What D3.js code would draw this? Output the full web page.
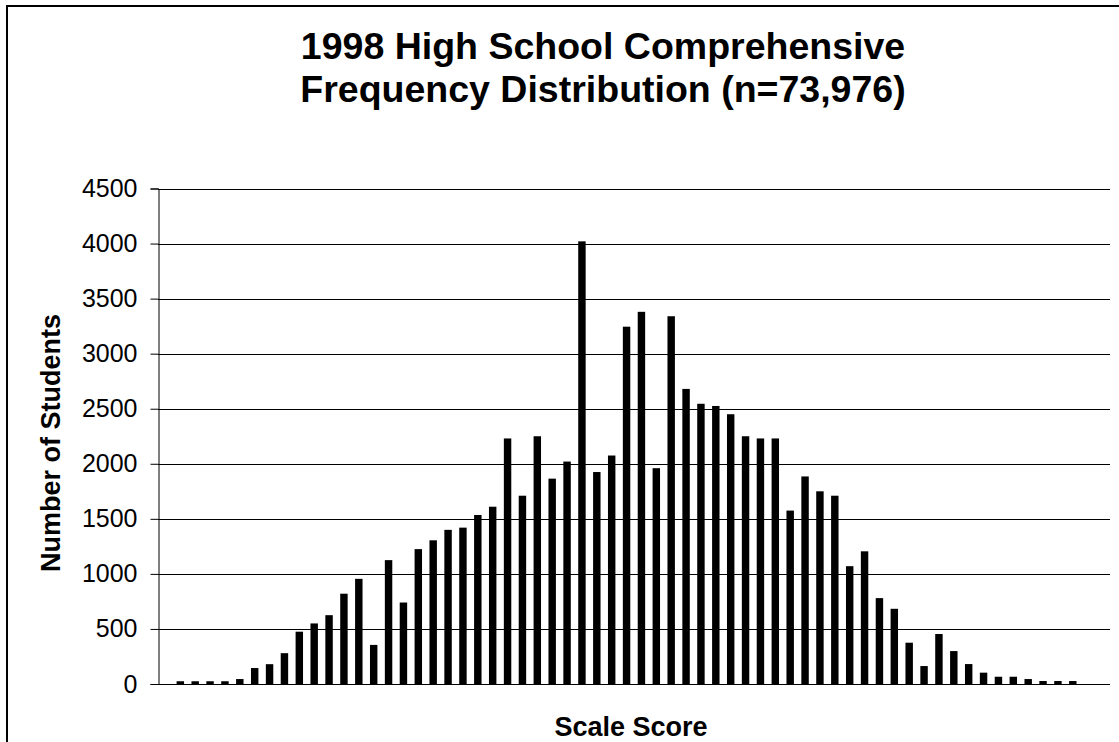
<!DOCTYPE html>
<html>
<head>
<meta charset="utf-8">
<script src="https://cdn.jsdelivr.net/npm/d3@7"></script>
<style>
    body { margin: 0; background: #fff; }
    svg text { font-family: "Liberation Sans", Arial, sans-serif; fill: #000; }
</style>
</head>
<body>
<svg id="chart" width="1119" height="742"></svg>
<script>
// Frequency per scale score (left to right)
var counts = [0, 25, 25, 25, 25, 45, 145, 180, 280, 475, 550, 625, 820, 955, 355, 1125,
    740, 1225, 1305, 1400, 1420, 1535, 1610, 2230, 1710, 2250, 1865, 2020, 4020, 1925,
    2075, 3245, 3380, 1960, 3340, 2680, 2545, 2525, 2450, 2250, 2230, 2230, 1575, 1885,
    1750, 1710, 1070, 1205, 780, 683, 375, 163, 454, 299, 181, 103, 66, 66, 45, 27, 27, 27, 0, 0];
var scores = d3.range(counts.length);
var yTicks = [0, 500, 1000, 1500, 2000, 2500, 3000, 3500, 4000, 4500];
var titleLines = ["1998 High School Comprehensive", "Frequency Distribution (n=73,976)"];

var svg = d3.select("#chart");

// chart border
svg.append("rect")
    .attr("x", 7).attr("y", 6)
    .attr("width", 1130).attr("height", 760)
    .attr("fill", "none").attr("stroke", "#000").attr("stroke-width", 2);

var margin = { top: 188.5, left: 158, right: 1110, bottom: 684 };

var x = d3.scaleBand()
    .domain(scores)
    .range([margin.left, margin.right])
    .paddingInner(0.5)
    .paddingOuter(0.25);

var y = d3.scaleLinear()
    .domain([0, 4500])
    .range([margin.bottom, margin.top]);

// gridlines
svg.append("g")
    .selectAll("line")
    .data(yTicks)
    .enter().append("line")
    .attr("x1", margin.left).attr("x2", margin.right)
    .attr("y1", function (d) { return Math.round(y(d)) + 0.5; })
    .attr("y2", function (d) { return Math.round(y(d)) + 0.5; })
    .attr("stroke", "#000").attr("stroke-width", 1);

// bars
svg.append("g")
    .selectAll("rect")
    .data(counts)
    .enter().append("rect")
    .attr("x", function (d, i) { return x(i); })
    .attr("width", x.bandwidth())
    .attr("y", function (d) { return y(d); })
    .attr("height", function (d) { return y(0) - y(d); })
    .attr("fill", "#000");

// y axis
var yAxis = svg.append("g")
    .attr("transform", "translate(" + (margin.left + 0.5) + ",0)")
    .call(d3.axisLeft(y).tickValues(yTicks).tickFormat(d3.format("d")).tickSize(8).tickPadding(13));
yAxis.select(".domain").attr("stroke", "#000");
yAxis.selectAll(".tick line").attr("stroke", "#000");
yAxis.selectAll("text")
    .attr("font-size", 25)
    .attr("font-family", "Liberation Sans, Arial, sans-serif")
    .attr("fill", "#000");

// title
svg.append("g")
    .selectAll("text")
    .data(titleLines)
    .enter().append("text")
    .attr("x", 603)
    .attr("y", function (d, i) { return 59 + i * 43; })
    .attr("text-anchor", "middle")
    .attr("font-size", 37.5)
    .attr("font-weight", "bold")
    .text(function (d) { return d; });

// axis titles
svg.append("text")
    .attr("x", 631).attr("y", 736)
    .attr("text-anchor", "middle")
    .attr("font-size", 27)
    .attr("font-weight", "bold")
    .text("Scale Score");

svg.append("text")
    .attr("transform", "translate(60,443) rotate(-90)")
    .attr("text-anchor", "middle")
    .attr("font-size", 27)
    .attr("font-weight", "bold")
    .text("Number of Students");
</script>
</body>
</html>
